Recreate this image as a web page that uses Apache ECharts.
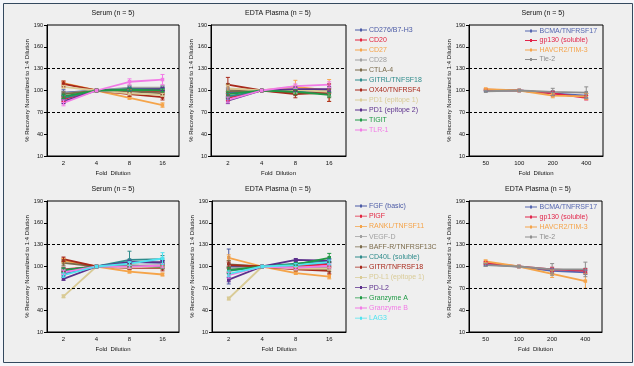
<!DOCTYPE html>
<html><head><meta charset="utf-8">
<script src="https://cdn.jsdelivr.net/npm/echarts@6/dist/echarts.min.js"></script>
<style>html,body{margin:0;padding:0;background:#f4f6fa}#c{width:634px;height:366px}</style>
</head><body><div id="c"></div>
<script>
// ---------- DATA ----------
const dilutionA = ['2', '4', '8', '16'];
const dilutionB = ['50', '100', '200', '400'];
const yMin = 10, yMax = 190, yStep = 30;
const limitHigh = 130, limitLow = 70;

const names1 = ['CD276/B7-H3', 'CD20', 'CD27', 'CD28', 'CTLA-4', 'GITRL/TNFSF18', 'OX40/TNFRSF4', 'PD1 (epitope 1)', 'PD1 (epitope 2)', 'TIGIT', 'TLR-1'];
const colors1 = ['#4b5aa5', '#e3243f', '#f5a44a', '#a0a0a0', '#7b6b4b', '#2e8b8b', '#a8281a', '#d9cb96', '#5b2f8c', '#1f9a45', '#f27ae6'];
const serum1 = [
  [97, 100, 103, 103], [88, 100, 100, 98], [110, 100, 90, 80], [96, 100, 104, 104],
  [95, 100, 99, 96], [90, 100, 102, 101], [109, 100, 95, 91], [105, 100, 96, 94],
  [85, 100, 101, 102], [92, 100, 101, 100], [83, 100, 112, 115]];
const serum1Err = [
  [4, 0, 3, 3], [3, 0, 2, 2], [3, 0, 2, 3], [3, 0, 3, 3], [3, 0, 2, 2], [3, 0, 2, 2],
  [4, 0, 3, 4], [2, 0, 2, 2], [3, 0, 2, 2], [3, 0, 2, 2], [4, 0, 4, 7]];
const plasma1 = [
  [97, 100, 101, 100], [90, 100, 99, 99], [102, 100, 105, 100], [100, 100, 100, 101],
  [99, 100, 97, 96], [92, 100, 99, 95], [108, 100, 95, 97], [103, 100, 101, 98],
  [86, 100, 102, 102], [95, 100, 98, 94], [87, 100, 106, 108]];
const plasma1Err = [
  [5, 0, 3, 3], [4, 0, 3, 3], [6, 0, 9, 15], [4, 0, 3, 4], [10, 0, 4, 6], [4, 0, 3, 3],
  [10, 0, 5, 12], [4, 0, 5, 6], [4, 0, 3, 3], [4, 0, 3, 3], [4, 0, 3, 4]];

const names2 = ['FGF (basic)', 'PlGF', 'RANKL/TNFSF11', 'VEGF-D', 'BAFF-R/TNFRSF13C', 'CD40L (soluble)', 'GITR/TNFRSF18', 'PD-L1 (epitope 1)', 'PD-L2', 'Granzyme A', 'Granzyme B', 'LAG3'];
const colors2 = ['#4b5aa5', '#e3243f', '#f5a44a', '#a0a0a0', '#7b6b4b', '#2e8b8b', '#a8281a', '#d9cb96', '#5b2f8c', '#1f9a45', '#f27ae6', '#4fe3f0'];
const serum2 = [
  [90, 100, 106, 105], [96, 100, 101, 100], [108, 100, 93, 89], [93, 100, 101, 102],
  [105, 100, 99, 100], [95, 100, 109, 110], [110, 100, 98, 98], [59, 100, 99, 100],
  [83, 100, 106, 106], [95, 100, 101, 100], [92, 100, 100, 101], [88, 100, 104, 111]];
const serum2Err = [
  [3, 0, 3, 3], [3, 0, 2, 2], [3, 0, 2, 2], [3, 0, 2, 2], [4, 0, 2, 3], [3, 0, 12, 5],
  [3, 0, 2, 4], [2, 0, 2, 2], [2, 0, 2, 2], [3, 0, 2, 3], [3, 0, 2, 3], [3, 0, 3, 8]];
const plasma2 = [
  [100, 100, 101, 104], [96, 100, 100, 103], [112, 100, 91, 86], [97, 100, 99, 99],
  [103, 100, 97, 96], [94, 100, 104, 108], [102, 100, 96, 94], [56, 100, 97, 97],
  [82, 100, 109, 108], [95, 100, 103, 112], [88, 100, 98, 101], [90, 100, 102, 106]];
const plasma2Err = [
  [24, 0, 3, 3], [4, 0, 2, 3], [4, 0, 2, 3], [4, 0, 2, 3], [5, 0, 2, 3], [4, 0, 2, 3],
  [4, 0, 2, 4], [2, 0, 2, 2], [3, 0, 2, 2], [4, 0, 2, 6], [4, 0, 2, 3], [4, 0, 2, 3]];

const names3 = ['BCMA/TNFRSF17', 'gp130 (soluble)', 'HAVCR2/TIM-3', 'Tie-2'];
const colors3 = ['#5566b0', '#e2254a', '#f5a44a', '#8e8e8e'];
const serum3 = [[100, 100, 96, 93], [101, 100, 96, 90], [102, 100, 93, 92], [99, 100, 98, 97]];
const serum3Err = [[1, 0, 3, 3], [1, 0, 3, 3], [1, 0, 3, 4], [1, 0, 5, 8]];
const plasma3 = [[103, 100, 94, 92], [105, 100, 96, 94], [107, 100, 90, 80], [102, 100, 96, 96]];
const plasma3Err = [[2, 0, 3, 3], [2, 0, 3, 3], [2, 0, 5, 10], [2, 0, 8, 10]];

const titleSerum = 'Serum (n = 5)';
const titlePlasma = 'EDTA Plasma (n = 5)';
const yName = '% Recovery Normalized to 1:4 Dilution';
const xName = 'Fold  Dilution';

// ---------- LAYOUT ----------
const panels = [
  {grid: {left: 47, top: 25, width: 132, height: 131}, cats: dilutionA, names: names1, colors: colors1, mean: serum1, err: serum1Err, title: titleSerum, tx: 113, ty: 10, gap: 15},
  {grid: {left: 211, top: 25, width: 135, height: 131}, cats: dilutionA, names: names1, colors: colors1, mean: plasma1, err: plasma1Err, title: titlePlasma, tx: 278, ty: 10, gap: 15},
  {grid: {left: 469, top: 25, width: 134, height: 131}, cats: dilutionB, names: names3, colors: colors3, mean: serum3, err: serum3Err, title: titleSerum, tx: 543, ty: 10, gap: 9},
  {grid: {left: 47, top: 201, width: 132, height: 131}, cats: dilutionA, names: names2, colors: colors2, mean: serum2, err: serum2Err, title: titleSerum, tx: 113, ty: 186, gap: 14},
  {grid: {left: 212, top: 201, width: 134, height: 131}, cats: dilutionA, names: names2, colors: colors2, mean: plasma2, err: plasma2Err, title: titlePlasma, tx: 278, ty: 186, gap: 16},
  {grid: {left: 469, top: 201, width: 133, height: 131}, cats: dilutionB, names: names3, colors: colors3, mean: plasma3, err: plasma3Err, title: titlePlasma, tx: 538, ty: 186, gap: 12}
];
const FONT = 'Liberation Sans, Arial, sans-serif';

const grids = [], xAxes = [], yAxes = [], series = [], titles = [];
panels.forEach((p, i) => {
  grids.push(Object.assign({show: true, borderColor: '#000', borderWidth: 1, backgroundColor: 'transparent', containLabel: false}, p.grid));
  xAxes.push({
    type: 'category', gridIndex: i, data: p.cats, boundaryGap: true,
    name: xName, nameLocation: 'middle', nameGap: 14,
    nameTextStyle: {fontSize: 6, color: '#111', fontFamily: FONT},
    axisLine: {lineStyle: {color: '#000', width: 1}},
    axisTick: {alignWithLabel: true, length: 3, lineStyle: {color: '#000'}},
    axisLabel: {fontSize: 6, color: '#111', margin: 4, fontFamily: FONT},
    splitLine: {show: false}
  });
  yAxes.push({
    type: 'value', gridIndex: i, min: yMin, max: yMax, interval: yStep,
    name: yName, nameLocation: 'middle', nameGap: p.gap, nameRotate: 90,
    nameTextStyle: {fontSize: 6, color: '#111', fontFamily: FONT},
    axisLine: {show: true, lineStyle: {color: '#000', width: 1}},
    axisTick: {show: true, length: 3, lineStyle: {color: '#000'}},
    axisLabel: {fontSize: 5.5, color: '#111', margin: 4, fontFamily: FONT},
    splitLine: {show: false}
  });
  titles.push({text: p.title, left: p.tx, top: p.ty, textAlign: 'center', padding: 0,
    textStyle: {fontSize: 7, fontWeight: 'normal', color: '#111', fontFamily: FONT}});
  p.names.forEach((n, k) => {
    const s = {
      type: 'line', name: n, xAxisIndex: i, yAxisIndex: i, data: p.mean[k],
      color: p.colors[k], lineStyle: {width: 1.8, color: p.colors[k]},
      itemStyle: {color: p.colors[k]}, symbol: 'rect', symbolSize: 3.5, z: 3, animation: false
    };
    if (k === 0) {
      s.markLine = {silent: true, symbol: 'none', animation: false,
        lineStyle: {type: [3, 2], color: '#000', width: 1.2}, label: {show: false},
        data: [{yAxis: limitHigh}, {yAxis: limitLow}]};
    }
    series.push(s);
  });
  const errData = [];
  p.names.forEach((n, k) => {
    p.mean[k].forEach((m, c) => {
      const e = p.err[k][c];
      if (e > 0) errData.push([c, m - e, m + e, k]);
    });
  });
  const cols = p.colors;
  series.push({
    type: 'custom', xAxisIndex: i, yAxisIndex: i, data: errData, z: 4, animation: false,
    encode: {x: 0, y: [1, 2]},
    renderItem: (params, api) => {
      const x = api.value(0), lo = api.value(1), hi = api.value(2), k = api.value(3);
      const a = api.coord([x, lo]), b = api.coord([x, hi]);
      const w = 2;
      const style = {stroke: cols[k], lineWidth: 1, fill: null};
      return {type: 'group', children: [
        {type: 'line', shape: {x1: a[0], y1: a[1], x2: b[0], y2: b[1]}, style},
        {type: 'line', shape: {x1: a[0] - w, y1: a[1], x2: a[0] + w, y2: a[1]}, style},
        {type: 'line', shape: {x1: b[0] - w, y1: b[1], x2: b[0] + w, y2: b[1]}, style}
      ]};
    }
  });
});

const legendIcon = 'path://M0,1.1h12v0.8h-12z M5,0h2v3h-2z';
function legendFor(names, colors, left, top, itemGap, w) {
  return {
    orient: 'vertical', left: left, top: top, padding: 0, itemGap: itemGap,
    itemWidth: w, itemHeight: 3, selectedMode: false, icon: legendIcon,
    textStyle: {fontSize: 7, fontFamily: FONT, lineHeight: 8, padding: [0, 0, 0, -3]},
    data: names.map((n, k) => ({name: n, textStyle: {color: colors[k]}}))
  };
}

const option = {
  backgroundColor: '#f4f6fa',
  animation: false,
  title: titles,
  graphic: [{type: 'rect', z: -100, silent: true,
    shape: {x: 3.5, y: 3.5, width: 629, height: 359},
    style: {fill: '#efefef', stroke: '#34495e', lineWidth: 1}}],
  legend: [
    legendFor(names1, colors1, 355, 26, 2, 12),
    legendFor(names2, colors2, 355, 202, 2.2, 12),
    legendFor(names3, colors3, 525, 27, 1.5, 13),
    legendFor(names3, colors3, 525, 203, 2, 13)
  ],
  grid: grids, xAxis: xAxes, yAxis: yAxes, series: series
};
const chart = echarts.init(document.getElementById('c'), null, {renderer: 'canvas'});
chart.setOption(option);
</script></body></html>
